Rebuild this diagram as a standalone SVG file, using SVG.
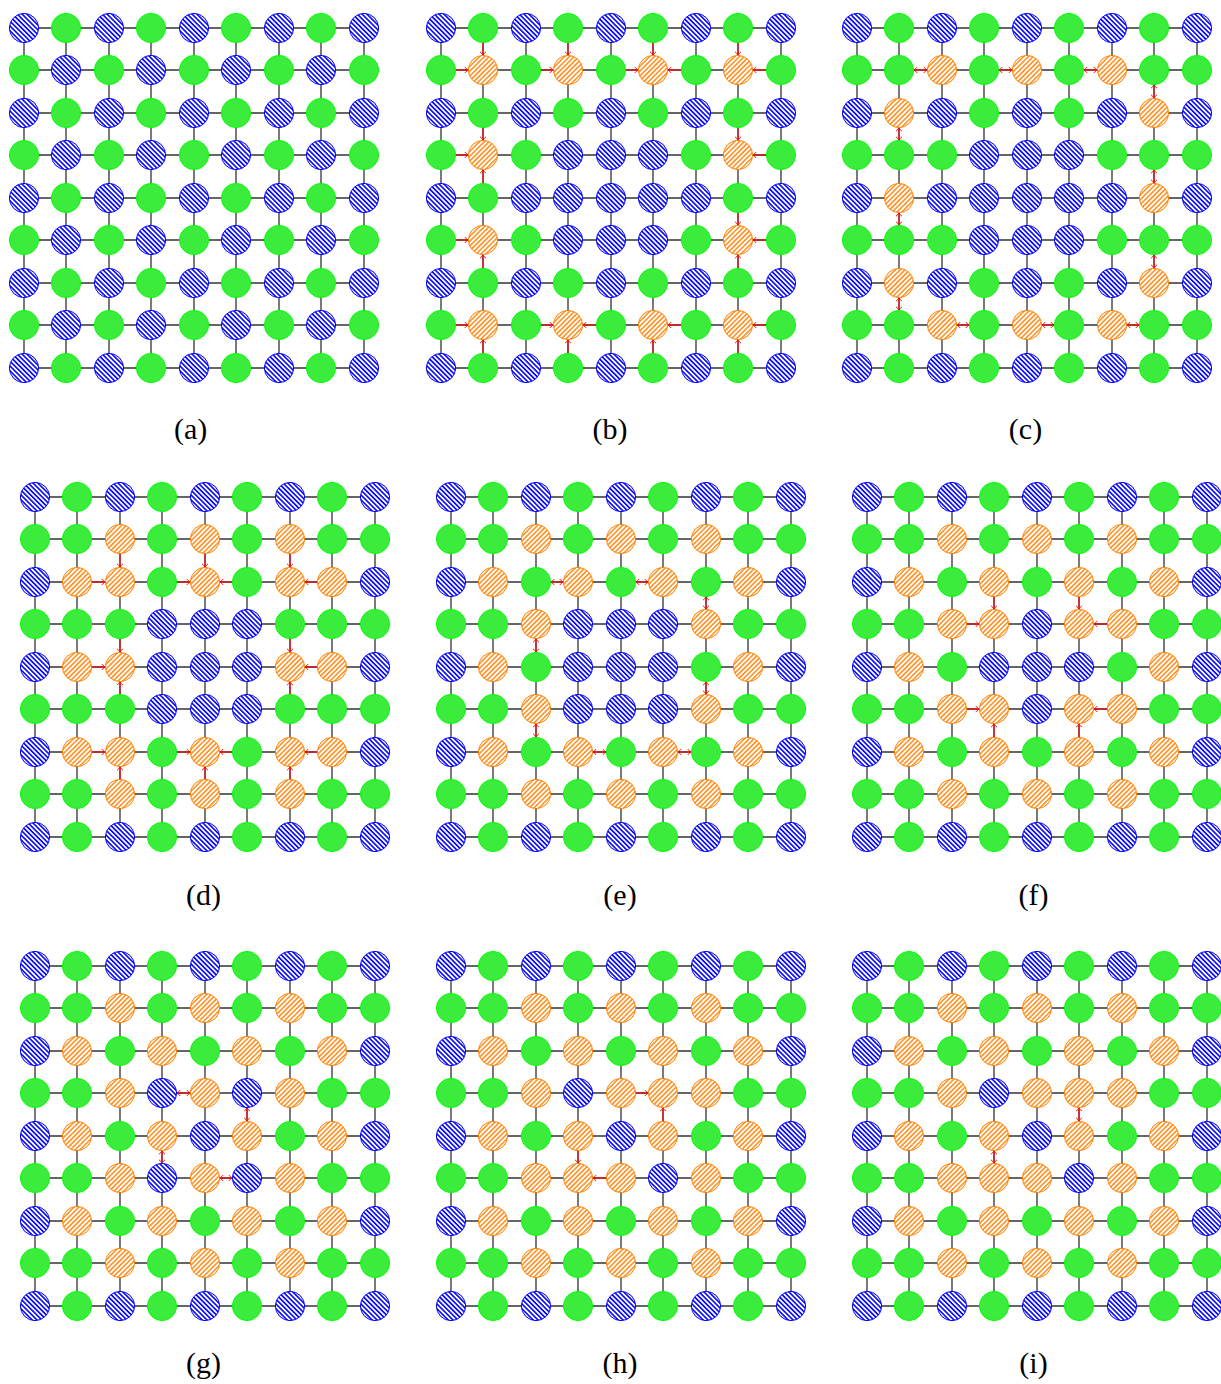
<svg xmlns="http://www.w3.org/2000/svg" width="1221" height="1384" viewBox="0 0 1221 1384">
<style>
.grid{fill:none;stroke:#333;stroke-width:1.3}
.ar{fill:none;stroke:#ff0000;stroke-width:1.1;marker-end:url(#ah)}
.dar{fill:none;stroke:#ff0000;stroke-width:1.1;marker-start:url(#ah);marker-end:url(#ah)}
.lbl{font-family:"Liberation Serif","DejaVu Serif",serif;font-size:30px;text-anchor:middle;fill:#000}
</style>
<defs>
<pattern id="pB" patternUnits="userSpaceOnUse" width="3.4" height="3.4" patternTransform="rotate(45)"><rect width="3.4" height="3.4" fill="#fff"/><line x1="-1" y1="1.7" x2="4.4" y2="1.7" stroke="#0000ff" stroke-width="1.6"/></pattern>
<pattern id="pO" patternUnits="userSpaceOnUse" width="3.4" height="3.4" patternTransform="rotate(-45)"><rect width="3.4" height="3.4" fill="#fff"/><line x1="-1" y1="1.7" x2="4.4" y2="1.7" stroke="#ff8000" stroke-width="1.4"/></pattern>
<circle id="B" r="14.6" fill="url(#pB)" stroke="#0000ff" stroke-width="1"/>
<circle id="G" r="14.6" fill="#3cec3c" stroke="#00ff00" stroke-width="1"/>
<circle id="O" r="14.6" fill="url(#pO)" stroke="#ff8000" stroke-width="1"/>
<path id="grid" class="grid" d="M0 0H340M0 42H340M0 85H340M0 127H340M0 170H340M0 212H340M0 255H340M0 297H340M0 340H340M0 0V340M42 0V340M85 0V340M127 0V340M170 0V340M212 0V340M255 0V340M297 0V340M340 0V340"/>
<marker id="ah" markerUnits="userSpaceOnUse" markerWidth="8" markerHeight="8" refX="0" refY="0" orient="auto-start-reverse" overflow="visible"><path d="M-3.2,-3 Q-1.2,-0.6 0,0 Q-1.2,0.6 -3.2,3" fill="none" stroke="#ff0000" stroke-width="0.9"/></marker>
</defs>
<rect width="1221" height="1384" fill="#fff"/>

<!-- panel a -->
<g id="panel-a" transform="translate(24,28)">
<g id="a-connectors"><use href="#grid"/></g>
<g transform="translate(0,0)"><g id="a00"><use href="#B"/></g><g id="a01"><use href="#G" x="42"/></g><g id="a02"><use href="#B" x="85"/></g><g id="a03"><use href="#G" x="127"/></g><g id="a04"><use href="#B" x="170"/></g><g id="a05"><use href="#G" x="212"/></g><g id="a06"><use href="#B" x="255"/></g><g id="a07"><use href="#G" x="297"/></g><g id="a08"><use href="#B" x="340"/></g></g>
<g transform="translate(0,42)"><g id="a10"><use href="#G"/></g><g id="a11"><use href="#B" x="42"/></g><g id="a12"><use href="#G" x="85"/></g><g id="a13"><use href="#B" x="127"/></g><g id="a14"><use href="#G" x="170"/></g><g id="a15"><use href="#B" x="212"/></g><g id="a16"><use href="#G" x="255"/></g><g id="a17"><use href="#B" x="297"/></g><g id="a18"><use href="#G" x="340"/></g></g>
<g transform="translate(0,85)"><g id="a20"><use href="#B"/></g><g id="a21"><use href="#G" x="42"/></g><g id="a22"><use href="#B" x="85"/></g><g id="a23"><use href="#G" x="127"/></g><g id="a24"><use href="#B" x="170"/></g><g id="a25"><use href="#G" x="212"/></g><g id="a26"><use href="#B" x="255"/></g><g id="a27"><use href="#G" x="297"/></g><g id="a28"><use href="#B" x="340"/></g></g>
<g transform="translate(0,127)"><g id="a30"><use href="#G"/></g><g id="a31"><use href="#B" x="42"/></g><g id="a32"><use href="#G" x="85"/></g><g id="a33"><use href="#B" x="127"/></g><g id="a34"><use href="#G" x="170"/></g><g id="a35"><use href="#B" x="212"/></g><g id="a36"><use href="#G" x="255"/></g><g id="a37"><use href="#B" x="297"/></g><g id="a38"><use href="#G" x="340"/></g></g>
<g transform="translate(0,170)"><g id="a40"><use href="#B"/></g><g id="a41"><use href="#G" x="42"/></g><g id="a42"><use href="#B" x="85"/></g><g id="a43"><use href="#G" x="127"/></g><g id="a44"><use href="#B" x="170"/></g><g id="a45"><use href="#G" x="212"/></g><g id="a46"><use href="#B" x="255"/></g><g id="a47"><use href="#G" x="297"/></g><g id="a48"><use href="#B" x="340"/></g></g>
<g transform="translate(0,212)"><g id="a50"><use href="#G"/></g><g id="a51"><use href="#B" x="42"/></g><g id="a52"><use href="#G" x="85"/></g><g id="a53"><use href="#B" x="127"/></g><g id="a54"><use href="#G" x="170"/></g><g id="a55"><use href="#B" x="212"/></g><g id="a56"><use href="#G" x="255"/></g><g id="a57"><use href="#B" x="297"/></g><g id="a58"><use href="#G" x="340"/></g></g>
<g transform="translate(0,255)"><g id="a60"><use href="#B"/></g><g id="a61"><use href="#G" x="42"/></g><g id="a62"><use href="#B" x="85"/></g><g id="a63"><use href="#G" x="127"/></g><g id="a64"><use href="#B" x="170"/></g><g id="a65"><use href="#G" x="212"/></g><g id="a66"><use href="#B" x="255"/></g><g id="a67"><use href="#G" x="297"/></g><g id="a68"><use href="#B" x="340"/></g></g>
<g transform="translate(0,297)"><g id="a70"><use href="#G"/></g><g id="a71"><use href="#B" x="42"/></g><g id="a72"><use href="#G" x="85"/></g><g id="a73"><use href="#B" x="127"/></g><g id="a74"><use href="#G" x="170"/></g><g id="a75"><use href="#B" x="212"/></g><g id="a76"><use href="#G" x="255"/></g><g id="a77"><use href="#B" x="297"/></g><g id="a78"><use href="#G" x="340"/></g></g>
<g transform="translate(0,340)"><g id="a80"><use href="#B"/></g><g id="a81"><use href="#G" x="42"/></g><g id="a82"><use href="#B" x="85"/></g><g id="a83"><use href="#G" x="127"/></g><g id="a84"><use href="#B" x="170"/></g><g id="a85"><use href="#G" x="212"/></g><g id="a86"><use href="#B" x="255"/></g><g id="a87"><use href="#G" x="297"/></g><g id="a88"><use href="#B" x="340"/></g></g>
</g>

<!-- panel b -->
<g id="panel-b" transform="translate(441,28)">
<g id="b-connectors"><use href="#grid"/></g>
<g transform="translate(0,0)"><g id="b00"><use href="#B"/></g><g id="b01"><use href="#G" x="42"/></g><g id="b02"><use href="#B" x="85"/></g><g id="b03"><use href="#G" x="127"/></g><g id="b04"><use href="#B" x="170"/></g><g id="b05"><use href="#G" x="212"/></g><g id="b06"><use href="#B" x="255"/></g><g id="b07"><use href="#G" x="297"/></g><g id="b08"><use href="#B" x="340"/></g></g>
<g transform="translate(0,42)"><g id="b10"><use href="#G"/></g><g id="b11"><use href="#O" x="42"/></g><g id="b12"><use href="#G" x="85"/></g><g id="b13"><use href="#O" x="127"/></g><g id="b14"><use href="#G" x="170"/></g><g id="b15"><use href="#O" x="212"/></g><g id="b16"><use href="#G" x="255"/></g><g id="b17"><use href="#O" x="297"/></g><g id="b18"><use href="#G" x="340"/></g></g>
<g transform="translate(0,85)"><g id="b20"><use href="#B"/></g><g id="b21"><use href="#G" x="42"/></g><g id="b22"><use href="#B" x="85"/></g><g id="b23"><use href="#G" x="127"/></g><g id="b24"><use href="#B" x="170"/></g><g id="b25"><use href="#G" x="212"/></g><g id="b26"><use href="#B" x="255"/></g><g id="b27"><use href="#G" x="297"/></g><g id="b28"><use href="#B" x="340"/></g></g>
<g transform="translate(0,127)"><g id="b30"><use href="#G"/></g><g id="b31"><use href="#O" x="42"/></g><g id="b32"><use href="#G" x="85"/></g><g id="b33"><use href="#B" x="127"/></g><g id="b34"><use href="#B" x="170"/></g><g id="b35"><use href="#B" x="212"/></g><g id="b36"><use href="#G" x="255"/></g><g id="b37"><use href="#O" x="297"/></g><g id="b38"><use href="#G" x="340"/></g></g>
<g transform="translate(0,170)"><g id="b40"><use href="#B"/></g><g id="b41"><use href="#G" x="42"/></g><g id="b42"><use href="#B" x="85"/></g><g id="b43"><use href="#B" x="127"/></g><g id="b44"><use href="#B" x="170"/></g><g id="b45"><use href="#B" x="212"/></g><g id="b46"><use href="#B" x="255"/></g><g id="b47"><use href="#G" x="297"/></g><g id="b48"><use href="#B" x="340"/></g></g>
<g transform="translate(0,212)"><g id="b50"><use href="#G"/></g><g id="b51"><use href="#O" x="42"/></g><g id="b52"><use href="#G" x="85"/></g><g id="b53"><use href="#B" x="127"/></g><g id="b54"><use href="#B" x="170"/></g><g id="b55"><use href="#B" x="212"/></g><g id="b56"><use href="#G" x="255"/></g><g id="b57"><use href="#O" x="297"/></g><g id="b58"><use href="#G" x="340"/></g></g>
<g transform="translate(0,255)"><g id="b60"><use href="#B"/></g><g id="b61"><use href="#G" x="42"/></g><g id="b62"><use href="#B" x="85"/></g><g id="b63"><use href="#G" x="127"/></g><g id="b64"><use href="#B" x="170"/></g><g id="b65"><use href="#G" x="212"/></g><g id="b66"><use href="#B" x="255"/></g><g id="b67"><use href="#G" x="297"/></g><g id="b68"><use href="#B" x="340"/></g></g>
<g transform="translate(0,297)"><g id="b70"><use href="#G"/></g><g id="b71"><use href="#O" x="42"/></g><g id="b72"><use href="#G" x="85"/></g><g id="b73"><use href="#O" x="127"/></g><g id="b74"><use href="#G" x="170"/></g><g id="b75"><use href="#O" x="212"/></g><g id="b76"><use href="#G" x="255"/></g><g id="b77"><use href="#O" x="297"/></g><g id="b78"><use href="#G" x="340"/></g></g>
<g transform="translate(0,340)"><g id="b80"><use href="#B"/></g><g id="b81"><use href="#G" x="42"/></g><g id="b82"><use href="#B" x="85"/></g><g id="b83"><use href="#G" x="127"/></g><g id="b84"><use href="#B" x="170"/></g><g id="b85"><use href="#G" x="212"/></g><g id="b86"><use href="#B" x="255"/></g><g id="b87"><use href="#G" x="297"/></g><g id="b88"><use href="#B" x="340"/></g></g>
<g id="b-arrows">
<path class="ar" d="M42 15V27"/><path class="ar" d="M127 15V27"/><path class="ar" d="M212 15V27"/><path class="ar" d="M297 15V27"/>
<path class="ar" d="M15 42H27"/><path class="ar" d="M100 42H112"/><path class="ar" d="M185 42H197"/><path class="ar" d="M240 42H227"/><path class="ar" d="M325 42H312"/>
<path class="ar" d="M42 100V112"/><path class="ar" d="M15 127H27"/><path class="ar" d="M42 155V142"/>
<path class="ar" d="M297 100V112"/><path class="ar" d="M325 127H312"/>
<path class="ar" d="M15 212H27"/><path class="ar" d="M42 240V227"/>
<path class="ar" d="M297 185V197"/><path class="ar" d="M325 212H312"/><path class="ar" d="M297 240V227"/>
<path class="ar" d="M15 297H27"/><path class="ar" d="M100 297H112"/><path class="ar" d="M155 297H142"/><path class="ar" d="M240 297H227"/><path class="ar" d="M325 297H312"/>
<path class="ar" d="M42 325V312"/><path class="ar" d="M127 325V312"/><path class="ar" d="M212 325V312"/><path class="ar" d="M297 325V312"/>
</g>
</g>

<!-- panel c -->
<g id="panel-c" transform="translate(857,28)">
<g id="c-connectors"><use href="#grid"/></g>
<g transform="translate(0,0)"><g id="c00"><use href="#B"/></g><g id="c01"><use href="#G" x="42"/></g><g id="c02"><use href="#B" x="85"/></g><g id="c03"><use href="#G" x="127"/></g><g id="c04"><use href="#B" x="170"/></g><g id="c05"><use href="#G" x="212"/></g><g id="c06"><use href="#B" x="255"/></g><g id="c07"><use href="#G" x="297"/></g><g id="c08"><use href="#B" x="340"/></g></g>
<g transform="translate(0,42)"><g id="c10"><use href="#G"/></g><g id="c11"><use href="#G" x="42"/></g><g id="c12"><use href="#O" x="85"/></g><g id="c13"><use href="#G" x="127"/></g><g id="c14"><use href="#O" x="170"/></g><g id="c15"><use href="#G" x="212"/></g><g id="c16"><use href="#O" x="255"/></g><g id="c17"><use href="#G" x="297"/></g><g id="c18"><use href="#G" x="340"/></g></g>
<g transform="translate(0,85)"><g id="c20"><use href="#B"/></g><g id="c21"><use href="#O" x="42"/></g><g id="c22"><use href="#B" x="85"/></g><g id="c23"><use href="#G" x="127"/></g><g id="c24"><use href="#B" x="170"/></g><g id="c25"><use href="#G" x="212"/></g><g id="c26"><use href="#B" x="255"/></g><g id="c27"><use href="#O" x="297"/></g><g id="c28"><use href="#B" x="340"/></g></g>
<g transform="translate(0,127)"><g id="c30"><use href="#G"/></g><g id="c31"><use href="#G" x="42"/></g><g id="c32"><use href="#G" x="85"/></g><g id="c33"><use href="#B" x="127"/></g><g id="c34"><use href="#B" x="170"/></g><g id="c35"><use href="#B" x="212"/></g><g id="c36"><use href="#G" x="255"/></g><g id="c37"><use href="#G" x="297"/></g><g id="c38"><use href="#G" x="340"/></g></g>
<g transform="translate(0,170)"><g id="c40"><use href="#B"/></g><g id="c41"><use href="#O" x="42"/></g><g id="c42"><use href="#B" x="85"/></g><g id="c43"><use href="#B" x="127"/></g><g id="c44"><use href="#B" x="170"/></g><g id="c45"><use href="#B" x="212"/></g><g id="c46"><use href="#B" x="255"/></g><g id="c47"><use href="#O" x="297"/></g><g id="c48"><use href="#B" x="340"/></g></g>
<g transform="translate(0,212)"><g id="c50"><use href="#G"/></g><g id="c51"><use href="#G" x="42"/></g><g id="c52"><use href="#G" x="85"/></g><g id="c53"><use href="#B" x="127"/></g><g id="c54"><use href="#B" x="170"/></g><g id="c55"><use href="#B" x="212"/></g><g id="c56"><use href="#G" x="255"/></g><g id="c57"><use href="#G" x="297"/></g><g id="c58"><use href="#G" x="340"/></g></g>
<g transform="translate(0,255)"><g id="c60"><use href="#B"/></g><g id="c61"><use href="#O" x="42"/></g><g id="c62"><use href="#B" x="85"/></g><g id="c63"><use href="#G" x="127"/></g><g id="c64"><use href="#B" x="170"/></g><g id="c65"><use href="#G" x="212"/></g><g id="c66"><use href="#B" x="255"/></g><g id="c67"><use href="#O" x="297"/></g><g id="c68"><use href="#B" x="340"/></g></g>
<g transform="translate(0,297)"><g id="c70"><use href="#G"/></g><g id="c71"><use href="#G" x="42"/></g><g id="c72"><use href="#O" x="85"/></g><g id="c73"><use href="#G" x="127"/></g><g id="c74"><use href="#O" x="170"/></g><g id="c75"><use href="#G" x="212"/></g><g id="c76"><use href="#O" x="255"/></g><g id="c77"><use href="#G" x="297"/></g><g id="c78"><use href="#G" x="340"/></g></g>
<g transform="translate(0,340)"><g id="c80"><use href="#B"/></g><g id="c81"><use href="#G" x="42"/></g><g id="c82"><use href="#B" x="85"/></g><g id="c83"><use href="#G" x="127"/></g><g id="c84"><use href="#B" x="170"/></g><g id="c85"><use href="#G" x="212"/></g><g id="c86"><use href="#B" x="255"/></g><g id="c87"><use href="#G" x="297"/></g><g id="c88"><use href="#B" x="340"/></g></g>
<g id="c-arrows">
<path class="dar" d="M57 42H70"/><path class="dar" d="M142 42H155"/><path class="dar" d="M227 42H240"/>
<path class="dar" d="M297 57V70"/><path class="dar" d="M42 100V112"/><path class="dar" d="M297 142V155"/><path class="dar" d="M42 185V197"/><path class="dar" d="M297 227V240"/><path class="dar" d="M42 270V282"/>
<path class="dar" d="M100 297H112"/><path class="dar" d="M185 297H197"/><path class="dar" d="M270 297H282"/>
</g>
</g>

<!-- panel d -->
<g id="panel-d" transform="translate(35,497)">
<g id="d-connectors"><use href="#grid"/></g>
<g transform="translate(0,0)"><g id="d00"><use href="#B"/></g><g id="d01"><use href="#G" x="42"/></g><g id="d02"><use href="#B" x="85"/></g><g id="d03"><use href="#G" x="127"/></g><g id="d04"><use href="#B" x="170"/></g><g id="d05"><use href="#G" x="212"/></g><g id="d06"><use href="#B" x="255"/></g><g id="d07"><use href="#G" x="297"/></g><g id="d08"><use href="#B" x="340"/></g></g>
<g transform="translate(0,42)"><g id="d10"><use href="#G"/></g><g id="d11"><use href="#G" x="42"/></g><g id="d12"><use href="#O" x="85"/></g><g id="d13"><use href="#G" x="127"/></g><g id="d14"><use href="#O" x="170"/></g><g id="d15"><use href="#G" x="212"/></g><g id="d16"><use href="#O" x="255"/></g><g id="d17"><use href="#G" x="297"/></g><g id="d18"><use href="#G" x="340"/></g></g>
<g transform="translate(0,85)"><g id="d20"><use href="#B"/></g><g id="d21"><use href="#O" x="42"/></g><g id="d22"><use href="#O" x="85"/></g><g id="d23"><use href="#G" x="127"/></g><g id="d24"><use href="#O" x="170"/></g><g id="d25"><use href="#G" x="212"/></g><g id="d26"><use href="#O" x="255"/></g><g id="d27"><use href="#O" x="297"/></g><g id="d28"><use href="#B" x="340"/></g></g>
<g transform="translate(0,127)"><g id="d30"><use href="#G"/></g><g id="d31"><use href="#G" x="42"/></g><g id="d32"><use href="#G" x="85"/></g><g id="d33"><use href="#B" x="127"/></g><g id="d34"><use href="#B" x="170"/></g><g id="d35"><use href="#B" x="212"/></g><g id="d36"><use href="#G" x="255"/></g><g id="d37"><use href="#G" x="297"/></g><g id="d38"><use href="#G" x="340"/></g></g>
<g transform="translate(0,170)"><g id="d40"><use href="#B"/></g><g id="d41"><use href="#O" x="42"/></g><g id="d42"><use href="#O" x="85"/></g><g id="d43"><use href="#B" x="127"/></g><g id="d44"><use href="#B" x="170"/></g><g id="d45"><use href="#B" x="212"/></g><g id="d46"><use href="#O" x="255"/></g><g id="d47"><use href="#O" x="297"/></g><g id="d48"><use href="#B" x="340"/></g></g>
<g transform="translate(0,212)"><g id="d50"><use href="#G"/></g><g id="d51"><use href="#G" x="42"/></g><g id="d52"><use href="#G" x="85"/></g><g id="d53"><use href="#B" x="127"/></g><g id="d54"><use href="#B" x="170"/></g><g id="d55"><use href="#B" x="212"/></g><g id="d56"><use href="#G" x="255"/></g><g id="d57"><use href="#G" x="297"/></g><g id="d58"><use href="#G" x="340"/></g></g>
<g transform="translate(0,255)"><g id="d60"><use href="#B"/></g><g id="d61"><use href="#O" x="42"/></g><g id="d62"><use href="#O" x="85"/></g><g id="d63"><use href="#G" x="127"/></g><g id="d64"><use href="#O" x="170"/></g><g id="d65"><use href="#G" x="212"/></g><g id="d66"><use href="#O" x="255"/></g><g id="d67"><use href="#O" x="297"/></g><g id="d68"><use href="#B" x="340"/></g></g>
<g transform="translate(0,297)"><g id="d70"><use href="#G"/></g><g id="d71"><use href="#G" x="42"/></g><g id="d72"><use href="#O" x="85"/></g><g id="d73"><use href="#G" x="127"/></g><g id="d74"><use href="#O" x="170"/></g><g id="d75"><use href="#G" x="212"/></g><g id="d76"><use href="#O" x="255"/></g><g id="d77"><use href="#G" x="297"/></g><g id="d78"><use href="#G" x="340"/></g></g>
<g transform="translate(0,340)"><g id="d80"><use href="#B"/></g><g id="d81"><use href="#G" x="42"/></g><g id="d82"><use href="#B" x="85"/></g><g id="d83"><use href="#G" x="127"/></g><g id="d84"><use href="#B" x="170"/></g><g id="d85"><use href="#G" x="212"/></g><g id="d86"><use href="#B" x="255"/></g><g id="d87"><use href="#G" x="297"/></g><g id="d88"><use href="#B" x="340"/></g></g>
<g id="d-arrows">
<path class="ar" d="M85 57V70"/><path class="ar" d="M170 57V70"/><path class="ar" d="M255 57V70"/>
<path class="ar" d="M57 85H70"/><path class="ar" d="M142 85H155"/><path class="ar" d="M197 85H185"/><path class="ar" d="M282 85H270"/>
<path class="ar" d="M85 142V155"/><path class="ar" d="M255 142V155"/><path class="ar" d="M57 170H70"/><path class="ar" d="M282 170H270"/><path class="ar" d="M85 197V185"/><path class="ar" d="M255 197V185"/>
<path class="ar" d="M57 255H70"/><path class="ar" d="M142 255H155"/><path class="ar" d="M197 255H185"/><path class="ar" d="M282 255H270"/>
<path class="ar" d="M85 282V270"/><path class="ar" d="M170 282V270"/><path class="ar" d="M255 282V270"/>
</g>
</g>

<!-- panel e -->
<g id="panel-e" transform="translate(451,497)">
<g id="e-connectors"><use href="#grid"/></g>
<g transform="translate(0,0)"><g id="e00"><use href="#B"/></g><g id="e01"><use href="#G" x="42"/></g><g id="e02"><use href="#B" x="85"/></g><g id="e03"><use href="#G" x="127"/></g><g id="e04"><use href="#B" x="170"/></g><g id="e05"><use href="#G" x="212"/></g><g id="e06"><use href="#B" x="255"/></g><g id="e07"><use href="#G" x="297"/></g><g id="e08"><use href="#B" x="340"/></g></g>
<g transform="translate(0,42)"><g id="e10"><use href="#G"/></g><g id="e11"><use href="#G" x="42"/></g><g id="e12"><use href="#O" x="85"/></g><g id="e13"><use href="#G" x="127"/></g><g id="e14"><use href="#O" x="170"/></g><g id="e15"><use href="#G" x="212"/></g><g id="e16"><use href="#O" x="255"/></g><g id="e17"><use href="#G" x="297"/></g><g id="e18"><use href="#G" x="340"/></g></g>
<g transform="translate(0,85)"><g id="e20"><use href="#B"/></g><g id="e21"><use href="#O" x="42"/></g><g id="e22"><use href="#G" x="85"/></g><g id="e23"><use href="#O" x="127"/></g><g id="e24"><use href="#G" x="170"/></g><g id="e25"><use href="#O" x="212"/></g><g id="e26"><use href="#G" x="255"/></g><g id="e27"><use href="#O" x="297"/></g><g id="e28"><use href="#B" x="340"/></g></g>
<g transform="translate(0,127)"><g id="e30"><use href="#G"/></g><g id="e31"><use href="#G" x="42"/></g><g id="e32"><use href="#O" x="85"/></g><g id="e33"><use href="#B" x="127"/></g><g id="e34"><use href="#B" x="170"/></g><g id="e35"><use href="#B" x="212"/></g><g id="e36"><use href="#O" x="255"/></g><g id="e37"><use href="#G" x="297"/></g><g id="e38"><use href="#G" x="340"/></g></g>
<g transform="translate(0,170)"><g id="e40"><use href="#B"/></g><g id="e41"><use href="#O" x="42"/></g><g id="e42"><use href="#G" x="85"/></g><g id="e43"><use href="#B" x="127"/></g><g id="e44"><use href="#B" x="170"/></g><g id="e45"><use href="#B" x="212"/></g><g id="e46"><use href="#G" x="255"/></g><g id="e47"><use href="#O" x="297"/></g><g id="e48"><use href="#B" x="340"/></g></g>
<g transform="translate(0,212)"><g id="e50"><use href="#G"/></g><g id="e51"><use href="#G" x="42"/></g><g id="e52"><use href="#O" x="85"/></g><g id="e53"><use href="#B" x="127"/></g><g id="e54"><use href="#B" x="170"/></g><g id="e55"><use href="#B" x="212"/></g><g id="e56"><use href="#O" x="255"/></g><g id="e57"><use href="#G" x="297"/></g><g id="e58"><use href="#G" x="340"/></g></g>
<g transform="translate(0,255)"><g id="e60"><use href="#B"/></g><g id="e61"><use href="#O" x="42"/></g><g id="e62"><use href="#G" x="85"/></g><g id="e63"><use href="#O" x="127"/></g><g id="e64"><use href="#G" x="170"/></g><g id="e65"><use href="#O" x="212"/></g><g id="e66"><use href="#G" x="255"/></g><g id="e67"><use href="#O" x="297"/></g><g id="e68"><use href="#B" x="340"/></g></g>
<g transform="translate(0,297)"><g id="e70"><use href="#G"/></g><g id="e71"><use href="#G" x="42"/></g><g id="e72"><use href="#O" x="85"/></g><g id="e73"><use href="#G" x="127"/></g><g id="e74"><use href="#O" x="170"/></g><g id="e75"><use href="#G" x="212"/></g><g id="e76"><use href="#O" x="255"/></g><g id="e77"><use href="#G" x="297"/></g><g id="e78"><use href="#G" x="340"/></g></g>
<g transform="translate(0,340)"><g id="e80"><use href="#B"/></g><g id="e81"><use href="#G" x="42"/></g><g id="e82"><use href="#B" x="85"/></g><g id="e83"><use href="#G" x="127"/></g><g id="e84"><use href="#B" x="170"/></g><g id="e85"><use href="#G" x="212"/></g><g id="e86"><use href="#B" x="255"/></g><g id="e87"><use href="#G" x="297"/></g><g id="e88"><use href="#B" x="340"/></g></g>
<g id="e-arrows">
<path class="dar" d="M100 85H112"/><path class="dar" d="M185 85H197"/><path class="dar" d="M255 100V112"/><path class="dar" d="M85 142V155"/>
<path class="dar" d="M255 185V197"/><path class="dar" d="M85 227V240"/><path class="dar" d="M142 255H155"/><path class="dar" d="M227 255H240"/>
</g>
</g>

<!-- panel f -->
<g id="panel-f" transform="translate(867,497)">
<g id="f-connectors"><use href="#grid"/></g>
<g transform="translate(0,0)"><g id="f00"><use href="#B"/></g><g id="f01"><use href="#G" x="42"/></g><g id="f02"><use href="#B" x="85"/></g><g id="f03"><use href="#G" x="127"/></g><g id="f04"><use href="#B" x="170"/></g><g id="f05"><use href="#G" x="212"/></g><g id="f06"><use href="#B" x="255"/></g><g id="f07"><use href="#G" x="297"/></g><g id="f08"><use href="#B" x="340"/></g></g>
<g transform="translate(0,42)"><g id="f10"><use href="#G"/></g><g id="f11"><use href="#G" x="42"/></g><g id="f12"><use href="#O" x="85"/></g><g id="f13"><use href="#G" x="127"/></g><g id="f14"><use href="#O" x="170"/></g><g id="f15"><use href="#G" x="212"/></g><g id="f16"><use href="#O" x="255"/></g><g id="f17"><use href="#G" x="297"/></g><g id="f18"><use href="#G" x="340"/></g></g>
<g transform="translate(0,85)"><g id="f20"><use href="#B"/></g><g id="f21"><use href="#O" x="42"/></g><g id="f22"><use href="#G" x="85"/></g><g id="f23"><use href="#O" x="127"/></g><g id="f24"><use href="#G" x="170"/></g><g id="f25"><use href="#O" x="212"/></g><g id="f26"><use href="#G" x="255"/></g><g id="f27"><use href="#O" x="297"/></g><g id="f28"><use href="#B" x="340"/></g></g>
<g transform="translate(0,127)"><g id="f30"><use href="#G"/></g><g id="f31"><use href="#G" x="42"/></g><g id="f32"><use href="#O" x="85"/></g><g id="f33"><use href="#O" x="127"/></g><g id="f34"><use href="#B" x="170"/></g><g id="f35"><use href="#O" x="212"/></g><g id="f36"><use href="#O" x="255"/></g><g id="f37"><use href="#G" x="297"/></g><g id="f38"><use href="#G" x="340"/></g></g>
<g transform="translate(0,170)"><g id="f40"><use href="#B"/></g><g id="f41"><use href="#O" x="42"/></g><g id="f42"><use href="#G" x="85"/></g><g id="f43"><use href="#B" x="127"/></g><g id="f44"><use href="#B" x="170"/></g><g id="f45"><use href="#B" x="212"/></g><g id="f46"><use href="#G" x="255"/></g><g id="f47"><use href="#O" x="297"/></g><g id="f48"><use href="#B" x="340"/></g></g>
<g transform="translate(0,212)"><g id="f50"><use href="#G"/></g><g id="f51"><use href="#G" x="42"/></g><g id="f52"><use href="#O" x="85"/></g><g id="f53"><use href="#O" x="127"/></g><g id="f54"><use href="#B" x="170"/></g><g id="f55"><use href="#O" x="212"/></g><g id="f56"><use href="#O" x="255"/></g><g id="f57"><use href="#G" x="297"/></g><g id="f58"><use href="#G" x="340"/></g></g>
<g transform="translate(0,255)"><g id="f60"><use href="#B"/></g><g id="f61"><use href="#O" x="42"/></g><g id="f62"><use href="#G" x="85"/></g><g id="f63"><use href="#O" x="127"/></g><g id="f64"><use href="#G" x="170"/></g><g id="f65"><use href="#O" x="212"/></g><g id="f66"><use href="#G" x="255"/></g><g id="f67"><use href="#O" x="297"/></g><g id="f68"><use href="#B" x="340"/></g></g>
<g transform="translate(0,297)"><g id="f70"><use href="#G"/></g><g id="f71"><use href="#G" x="42"/></g><g id="f72"><use href="#O" x="85"/></g><g id="f73"><use href="#G" x="127"/></g><g id="f74"><use href="#O" x="170"/></g><g id="f75"><use href="#G" x="212"/></g><g id="f76"><use href="#O" x="255"/></g><g id="f77"><use href="#G" x="297"/></g><g id="f78"><use href="#G" x="340"/></g></g>
<g transform="translate(0,340)"><g id="f80"><use href="#B"/></g><g id="f81"><use href="#G" x="42"/></g><g id="f82"><use href="#B" x="85"/></g><g id="f83"><use href="#G" x="127"/></g><g id="f84"><use href="#B" x="170"/></g><g id="f85"><use href="#G" x="212"/></g><g id="f86"><use href="#B" x="255"/></g><g id="f87"><use href="#G" x="297"/></g><g id="f88"><use href="#B" x="340"/></g></g>
<g id="f-arrows">
<path class="ar" d="M127 100V112"/><path class="ar" d="M212 100V112"/><path class="ar" d="M100 127H112"/><path class="ar" d="M240 127H227"/>
<path class="ar" d="M100 212H112"/><path class="ar" d="M240 212H227"/><path class="ar" d="M127 240V227"/><path class="ar" d="M212 240V227"/>
</g>
</g>

<!-- panel g -->
<g id="panel-g" transform="translate(35,966)">
<g id="g-connectors"><use href="#grid"/></g>
<g transform="translate(0,0)"><g id="g00"><use href="#B"/></g><g id="g01"><use href="#G" x="42"/></g><g id="g02"><use href="#B" x="85"/></g><g id="g03"><use href="#G" x="127"/></g><g id="g04"><use href="#B" x="170"/></g><g id="g05"><use href="#G" x="212"/></g><g id="g06"><use href="#B" x="255"/></g><g id="g07"><use href="#G" x="297"/></g><g id="g08"><use href="#B" x="340"/></g></g>
<g transform="translate(0,42)"><g id="g10"><use href="#G"/></g><g id="g11"><use href="#G" x="42"/></g><g id="g12"><use href="#O" x="85"/></g><g id="g13"><use href="#G" x="127"/></g><g id="g14"><use href="#O" x="170"/></g><g id="g15"><use href="#G" x="212"/></g><g id="g16"><use href="#O" x="255"/></g><g id="g17"><use href="#G" x="297"/></g><g id="g18"><use href="#G" x="340"/></g></g>
<g transform="translate(0,85)"><g id="g20"><use href="#B"/></g><g id="g21"><use href="#O" x="42"/></g><g id="g22"><use href="#G" x="85"/></g><g id="g23"><use href="#O" x="127"/></g><g id="g24"><use href="#G" x="170"/></g><g id="g25"><use href="#O" x="212"/></g><g id="g26"><use href="#G" x="255"/></g><g id="g27"><use href="#O" x="297"/></g><g id="g28"><use href="#B" x="340"/></g></g>
<g transform="translate(0,127)"><g id="g30"><use href="#G"/></g><g id="g31"><use href="#G" x="42"/></g><g id="g32"><use href="#O" x="85"/></g><g id="g33"><use href="#B" x="127"/></g><g id="g34"><use href="#O" x="170"/></g><g id="g35"><use href="#B" x="212"/></g><g id="g36"><use href="#O" x="255"/></g><g id="g37"><use href="#G" x="297"/></g><g id="g38"><use href="#G" x="340"/></g></g>
<g transform="translate(0,170)"><g id="g40"><use href="#B"/></g><g id="g41"><use href="#O" x="42"/></g><g id="g42"><use href="#G" x="85"/></g><g id="g43"><use href="#O" x="127"/></g><g id="g44"><use href="#B" x="170"/></g><g id="g45"><use href="#O" x="212"/></g><g id="g46"><use href="#G" x="255"/></g><g id="g47"><use href="#O" x="297"/></g><g id="g48"><use href="#B" x="340"/></g></g>
<g transform="translate(0,212)"><g id="g50"><use href="#G"/></g><g id="g51"><use href="#G" x="42"/></g><g id="g52"><use href="#O" x="85"/></g><g id="g53"><use href="#B" x="127"/></g><g id="g54"><use href="#O" x="170"/></g><g id="g55"><use href="#B" x="212"/></g><g id="g56"><use href="#O" x="255"/></g><g id="g57"><use href="#G" x="297"/></g><g id="g58"><use href="#G" x="340"/></g></g>
<g transform="translate(0,255)"><g id="g60"><use href="#B"/></g><g id="g61"><use href="#O" x="42"/></g><g id="g62"><use href="#G" x="85"/></g><g id="g63"><use href="#O" x="127"/></g><g id="g64"><use href="#G" x="170"/></g><g id="g65"><use href="#O" x="212"/></g><g id="g66"><use href="#G" x="255"/></g><g id="g67"><use href="#O" x="297"/></g><g id="g68"><use href="#B" x="340"/></g></g>
<g transform="translate(0,297)"><g id="g70"><use href="#G"/></g><g id="g71"><use href="#G" x="42"/></g><g id="g72"><use href="#O" x="85"/></g><g id="g73"><use href="#G" x="127"/></g><g id="g74"><use href="#O" x="170"/></g><g id="g75"><use href="#G" x="212"/></g><g id="g76"><use href="#O" x="255"/></g><g id="g77"><use href="#G" x="297"/></g><g id="g78"><use href="#G" x="340"/></g></g>
<g transform="translate(0,340)"><g id="g80"><use href="#B"/></g><g id="g81"><use href="#G" x="42"/></g><g id="g82"><use href="#B" x="85"/></g><g id="g83"><use href="#G" x="127"/></g><g id="g84"><use href="#B" x="170"/></g><g id="g85"><use href="#G" x="212"/></g><g id="g86"><use href="#B" x="255"/></g><g id="g87"><use href="#G" x="297"/></g><g id="g88"><use href="#B" x="340"/></g></g>
<g id="g-arrows">
<path class="dar" d="M142 127H155"/><path class="dar" d="M212 142V155"/><path class="dar" d="M127 185V197"/><path class="dar" d="M185 212H197"/>
</g>
</g>

<!-- panel h -->
<g id="panel-h" transform="translate(451,966)">
<g id="h-connectors"><use href="#grid"/></g>
<g transform="translate(0,0)"><g id="h00"><use href="#B"/></g><g id="h01"><use href="#G" x="42"/></g><g id="h02"><use href="#B" x="85"/></g><g id="h03"><use href="#G" x="127"/></g><g id="h04"><use href="#B" x="170"/></g><g id="h05"><use href="#G" x="212"/></g><g id="h06"><use href="#B" x="255"/></g><g id="h07"><use href="#G" x="297"/></g><g id="h08"><use href="#B" x="340"/></g></g>
<g transform="translate(0,42)"><g id="h10"><use href="#G"/></g><g id="h11"><use href="#G" x="42"/></g><g id="h12"><use href="#O" x="85"/></g><g id="h13"><use href="#G" x="127"/></g><g id="h14"><use href="#O" x="170"/></g><g id="h15"><use href="#G" x="212"/></g><g id="h16"><use href="#O" x="255"/></g><g id="h17"><use href="#G" x="297"/></g><g id="h18"><use href="#G" x="340"/></g></g>
<g transform="translate(0,85)"><g id="h20"><use href="#B"/></g><g id="h21"><use href="#O" x="42"/></g><g id="h22"><use href="#G" x="85"/></g><g id="h23"><use href="#O" x="127"/></g><g id="h24"><use href="#G" x="170"/></g><g id="h25"><use href="#O" x="212"/></g><g id="h26"><use href="#G" x="255"/></g><g id="h27"><use href="#O" x="297"/></g><g id="h28"><use href="#B" x="340"/></g></g>
<g transform="translate(0,127)"><g id="h30"><use href="#G"/></g><g id="h31"><use href="#G" x="42"/></g><g id="h32"><use href="#O" x="85"/></g><g id="h33"><use href="#B" x="127"/></g><g id="h34"><use href="#O" x="170"/></g><g id="h35"><use href="#O" x="212"/></g><g id="h36"><use href="#O" x="255"/></g><g id="h37"><use href="#G" x="297"/></g><g id="h38"><use href="#G" x="340"/></g></g>
<g transform="translate(0,170)"><g id="h40"><use href="#B"/></g><g id="h41"><use href="#O" x="42"/></g><g id="h42"><use href="#G" x="85"/></g><g id="h43"><use href="#O" x="127"/></g><g id="h44"><use href="#B" x="170"/></g><g id="h45"><use href="#O" x="212"/></g><g id="h46"><use href="#G" x="255"/></g><g id="h47"><use href="#O" x="297"/></g><g id="h48"><use href="#B" x="340"/></g></g>
<g transform="translate(0,212)"><g id="h50"><use href="#G"/></g><g id="h51"><use href="#G" x="42"/></g><g id="h52"><use href="#O" x="85"/></g><g id="h53"><use href="#O" x="127"/></g><g id="h54"><use href="#O" x="170"/></g><g id="h55"><use href="#B" x="212"/></g><g id="h56"><use href="#O" x="255"/></g><g id="h57"><use href="#G" x="297"/></g><g id="h58"><use href="#G" x="340"/></g></g>
<g transform="translate(0,255)"><g id="h60"><use href="#B"/></g><g id="h61"><use href="#O" x="42"/></g><g id="h62"><use href="#G" x="85"/></g><g id="h63"><use href="#O" x="127"/></g><g id="h64"><use href="#G" x="170"/></g><g id="h65"><use href="#O" x="212"/></g><g id="h66"><use href="#G" x="255"/></g><g id="h67"><use href="#O" x="297"/></g><g id="h68"><use href="#B" x="340"/></g></g>
<g transform="translate(0,297)"><g id="h70"><use href="#G"/></g><g id="h71"><use href="#G" x="42"/></g><g id="h72"><use href="#O" x="85"/></g><g id="h73"><use href="#G" x="127"/></g><g id="h74"><use href="#O" x="170"/></g><g id="h75"><use href="#G" x="212"/></g><g id="h76"><use href="#O" x="255"/></g><g id="h77"><use href="#G" x="297"/></g><g id="h78"><use href="#G" x="340"/></g></g>
<g transform="translate(0,340)"><g id="h80"><use href="#B"/></g><g id="h81"><use href="#G" x="42"/></g><g id="h82"><use href="#B" x="85"/></g><g id="h83"><use href="#G" x="127"/></g><g id="h84"><use href="#B" x="170"/></g><g id="h85"><use href="#G" x="212"/></g><g id="h86"><use href="#B" x="255"/></g><g id="h87"><use href="#G" x="297"/></g><g id="h88"><use href="#B" x="340"/></g></g>
<g id="h-arrows">
<path class="ar" d="M185 127H197"/><path class="ar" d="M212 155V142"/><path class="ar" d="M155 212H142"/><path class="ar" d="M127 185V197"/>
</g>
</g>

<!-- panel i -->
<g id="panel-i" transform="translate(867,966)">
<g id="i-connectors"><use href="#grid"/></g>
<g transform="translate(0,0)"><g id="i00"><use href="#B"/></g><g id="i01"><use href="#G" x="42"/></g><g id="i02"><use href="#B" x="85"/></g><g id="i03"><use href="#G" x="127"/></g><g id="i04"><use href="#B" x="170"/></g><g id="i05"><use href="#G" x="212"/></g><g id="i06"><use href="#B" x="255"/></g><g id="i07"><use href="#G" x="297"/></g><g id="i08"><use href="#B" x="340"/></g></g>
<g transform="translate(0,42)"><g id="i10"><use href="#G"/></g><g id="i11"><use href="#G" x="42"/></g><g id="i12"><use href="#O" x="85"/></g><g id="i13"><use href="#G" x="127"/></g><g id="i14"><use href="#O" x="170"/></g><g id="i15"><use href="#G" x="212"/></g><g id="i16"><use href="#O" x="255"/></g><g id="i17"><use href="#G" x="297"/></g><g id="i18"><use href="#G" x="340"/></g></g>
<g transform="translate(0,85)"><g id="i20"><use href="#B"/></g><g id="i21"><use href="#O" x="42"/></g><g id="i22"><use href="#G" x="85"/></g><g id="i23"><use href="#O" x="127"/></g><g id="i24"><use href="#G" x="170"/></g><g id="i25"><use href="#O" x="212"/></g><g id="i26"><use href="#G" x="255"/></g><g id="i27"><use href="#O" x="297"/></g><g id="i28"><use href="#B" x="340"/></g></g>
<g transform="translate(0,127)"><g id="i30"><use href="#G"/></g><g id="i31"><use href="#G" x="42"/></g><g id="i32"><use href="#O" x="85"/></g><g id="i33"><use href="#B" x="127"/></g><g id="i34"><use href="#O" x="170"/></g><g id="i35"><use href="#O" x="212"/></g><g id="i36"><use href="#O" x="255"/></g><g id="i37"><use href="#G" x="297"/></g><g id="i38"><use href="#G" x="340"/></g></g>
<g transform="translate(0,170)"><g id="i40"><use href="#B"/></g><g id="i41"><use href="#O" x="42"/></g><g id="i42"><use href="#G" x="85"/></g><g id="i43"><use href="#O" x="127"/></g><g id="i44"><use href="#B" x="170"/></g><g id="i45"><use href="#O" x="212"/></g><g id="i46"><use href="#G" x="255"/></g><g id="i47"><use href="#O" x="297"/></g><g id="i48"><use href="#B" x="340"/></g></g>
<g transform="translate(0,212)"><g id="i50"><use href="#G"/></g><g id="i51"><use href="#G" x="42"/></g><g id="i52"><use href="#O" x="85"/></g><g id="i53"><use href="#O" x="127"/></g><g id="i54"><use href="#O" x="170"/></g><g id="i55"><use href="#B" x="212"/></g><g id="i56"><use href="#O" x="255"/></g><g id="i57"><use href="#G" x="297"/></g><g id="i58"><use href="#G" x="340"/></g></g>
<g transform="translate(0,255)"><g id="i60"><use href="#B"/></g><g id="i61"><use href="#O" x="42"/></g><g id="i62"><use href="#G" x="85"/></g><g id="i63"><use href="#O" x="127"/></g><g id="i64"><use href="#G" x="170"/></g><g id="i65"><use href="#O" x="212"/></g><g id="i66"><use href="#G" x="255"/></g><g id="i67"><use href="#O" x="297"/></g><g id="i68"><use href="#B" x="340"/></g></g>
<g transform="translate(0,297)"><g id="i70"><use href="#G"/></g><g id="i71"><use href="#G" x="42"/></g><g id="i72"><use href="#O" x="85"/></g><g id="i73"><use href="#G" x="127"/></g><g id="i74"><use href="#O" x="170"/></g><g id="i75"><use href="#G" x="212"/></g><g id="i76"><use href="#O" x="255"/></g><g id="i77"><use href="#G" x="297"/></g><g id="i78"><use href="#G" x="340"/></g></g>
<g transform="translate(0,340)"><g id="i80"><use href="#B"/></g><g id="i81"><use href="#G" x="42"/></g><g id="i82"><use href="#B" x="85"/></g><g id="i83"><use href="#G" x="127"/></g><g id="i84"><use href="#B" x="170"/></g><g id="i85"><use href="#G" x="212"/></g><g id="i86"><use href="#B" x="255"/></g><g id="i87"><use href="#G" x="297"/></g><g id="i88"><use href="#B" x="340"/></g></g>
<g id="i-arrows">
<path class="dar" d="M212 142V155"/><path class="dar" d="M127 185V197"/>
</g>
</g>

<g id="labels">
<text class="lbl" x="190.7" y="439">(a)</text>
<text class="lbl" x="610" y="439">(b)</text>
<text class="lbl" x="1025.5" y="439">(c)</text>
<text class="lbl" x="203.5" y="905">(d)</text>
<text class="lbl" x="620" y="905">(e)</text>
<text class="lbl" x="1033.5" y="905">(f)</text>
<text class="lbl" x="203.5" y="1373">(g)</text>
<text class="lbl" x="620" y="1373">(h)</text>
<text class="lbl" x="1033.5" y="1373">(i)</text>
</g>
</svg>
